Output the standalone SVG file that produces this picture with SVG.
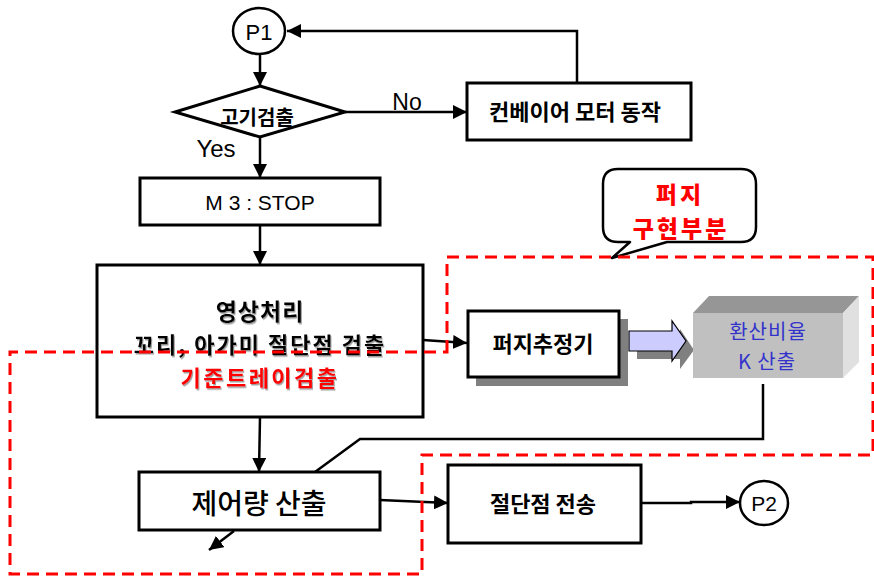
<svg xmlns="http://www.w3.org/2000/svg" width="874" height="576" viewBox="0 0 874 576">
<style>
.box{fill:#fff;stroke:#000;stroke-width:3}
.ln{fill:none;stroke:#000;stroke-width:2.5}
.kr{font-family:"Noto Sans CJK KR","Noto Sans",sans-serif;text-anchor:middle;fill:#000}
.en{font-family:"Liberation Sans",Arial,sans-serif;text-anchor:middle;fill:#000}
.red{fill:#FF0000}
.blue{fill:#3333CC}
.dash{fill:none;stroke:#FF0000;stroke-width:3;stroke-dasharray:12 7}
</style>
<defs>
<marker id="ah" markerUnits="userSpaceOnUse" markerWidth="16" markerHeight="14" refX="14" refY="7" orient="auto">
<path d="M0,0 L14,7 L0,14 Z" fill="#000"/>
</marker>
<filter id="ts" x="-5%" y="-20%" width="110%" height="140%">
<feDropShadow dx="1" dy="1.5" stdDeviation="0.6" flood-color="#888" flood-opacity="0.8"/>
</filter>
</defs>
<rect width="874" height="576" fill="#fff"/>

<g id="connectors">
<line class="ln" x1="260" y1="54" x2="260" y2="86" marker-end="url(#ah)"/>
<line class="ln" x1="345" y1="112" x2="467" y2="112" marker-end="url(#ah)"/>
<polyline class="ln" points="577,83 577,31 287,31" marker-end="url(#ah)"/>
<line class="ln" x1="260" y1="137" x2="260" y2="178" marker-end="url(#ah)"/>
<line class="ln" x1="260" y1="225" x2="260" y2="265" marker-end="url(#ah)"/>
<line class="ln" x1="423" y1="340" x2="467" y2="343" marker-end="url(#ah)"/>
<line class="ln" x1="260" y1="417" x2="259" y2="472" marker-end="url(#ah)"/>
<polyline class="ln" points="763,384 763,439 360,439 315,472"/>
<line class="ln" x1="380" y1="500" x2="448" y2="503" marker-end="url(#ah)"/>
<line class="ln" x1="234" y1="531" x2="209" y2="550" marker-end="url(#ah)"/>
<polyline class="ln" points="641,503 691,503 691,502 740,502" marker-end="url(#ah)"/>
</g>

<g id="P1">
<ellipse cx="259" cy="31" rx="26" ry="23" fill="#fff" stroke="#000" stroke-width="2.5"/>
<text class="en" x="259" y="40" font-size="22">P1</text>
</g>

<g id="decision">
<polygon points="260,86 345,112 260,137 175,112" class="box"/>
<text class="kr" x="257" y="125" font-size="20" font-weight="bold">고기검출</text>
<text class="en" x="407" y="110" font-size="23">No</text>
<text class="en" x="216" y="157" font-size="24">Yes</text>
</g>

<g id="conveyor">
<rect class="box" x="467" y="83" width="224" height="57"/>
<text class="kr" x="575" y="120" font-size="22" font-weight="bold">컨베이어 모터 동작</text>
</g>

<g id="m3stop">
<rect class="box" x="140" y="178" width="240" height="47"/>
<text class="en" x="260" y="210" font-size="21">M 3 : STOP</text>
</g>

<g id="image-proc">
<rect class="box" x="97" y="265" width="326" height="152"/>
<text class="kr" x="260" y="320" font-size="23" font-weight="bold" letter-spacing="1" filter="url(#ts)">영상처리</text>
<text class="kr" x="260" y="353" font-size="22" font-weight="bold" letter-spacing="2" filter="url(#ts)">꼬리, 아가미 절단점 검출</text>
<text class="kr red" x="260" y="386" font-size="22" font-weight="bold" letter-spacing="2.5" filter="url(#ts)">기준트레이검출</text>
</g>

<g id="callout">
<path d="M618,169 H741 Q756,169 756,184 V227 Q756,242 741,242 H667 L612,258 L630,242 H618 Q603,242 603,227 V184 Q603,169 618,169 Z" fill="#fff" stroke="#000" stroke-width="2.5" stroke-linejoin="round"/>
<text class="kr red" x="680" y="203" font-size="23" font-weight="900" letter-spacing="3">퍼지</text>
<text class="kr red" x="681" y="237" font-size="23" font-weight="900" letter-spacing="3">구현부분</text>
</g>

<g id="fuzzy-estimator">
<rect x="476" y="319" width="152" height="67" fill="#808080"/>
<rect class="box" x="468" y="311" width="151" height="66"/>
<text class="kr" x="543" y="352" font-size="22" font-weight="bold">퍼지추정기</text>
</g>

<g id="block-arrow">
<polygon points="637,339 680,339 680,329 694,350 680,369 680,359 637,359" fill="#808080"/>
<polygon points="629,331 672,331 672,321 686,341 672,361 672,351 629,351" fill="#CCCCFF" stroke="#000" stroke-width="1.2"/>
</g>

<g id="ratio-k">
<polygon points="693,313 709,296 859,296 843,313" fill="#969696"/>
<polygon points="843,313 859,296 859,362 843,378" fill="#E0E0E0"/>
<rect x="693" y="313" width="150" height="65" fill="#C0C0C0"/>
<text class="kr blue" x="768" y="339" font-size="20" letter-spacing="1">환산비율</text>
<text class="kr blue" x="767" y="369" font-size="20" letter-spacing="1">K 산출</text>
</g>

<g id="control">
<rect class="box" x="139" y="472" width="241" height="58"/>
<text class="kr" x="259" y="514" font-size="28" font-weight="500">제어량 산출</text>
</g>

<g id="transmit">
<rect class="box" x="448" y="465" width="193" height="78"/>
<text class="kr" x="543" y="512" font-size="22" font-weight="bold">절단점 전송</text>
</g>

<g id="P2">
<ellipse cx="764" cy="503" rx="24" ry="22" fill="#fff" stroke="#000" stroke-width="2.5"/>
<text class="en" x="764" y="511" font-size="21">P2</text>
</g>

<g id="regions">
<path class="dash" d="M447,352 V257 H873 V455 H422 V574 H10 V352 Z"/>
</g>
</svg>
